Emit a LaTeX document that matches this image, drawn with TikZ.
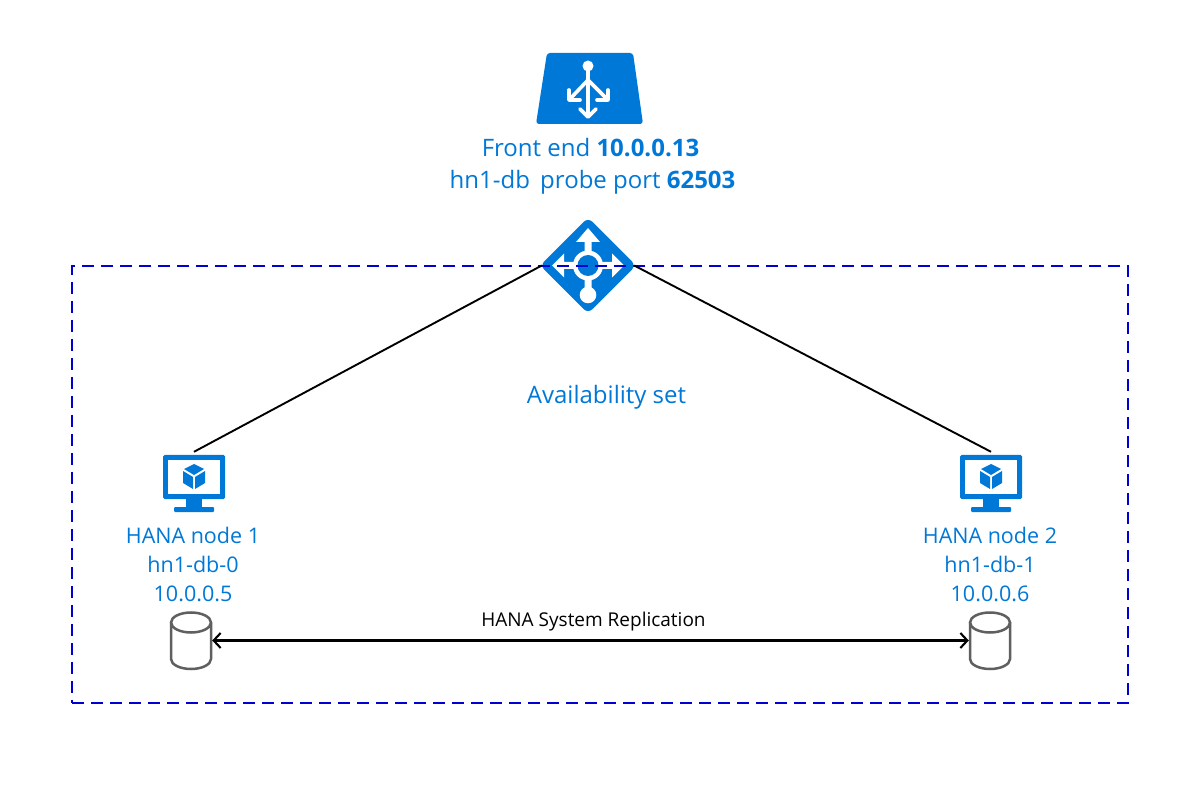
\documentclass[tikz,border=0pt]{standalone}
\usepackage{fontspec}
\setmainfont{Open Sans}
\usetikzlibrary{arrows.meta}
\definecolor{azure}{HTML}{0078D7}
\definecolor{dbgrey}{HTML}{5F5F5F}
\definecolor{setblue}{HTML}{0000D0}
\tikzset{
  x=1pt,y=-1pt,
  azuretext/.style={text=azure,align=center,inner sep=0pt,font=\fontsize{24}{32}\selectfont},
  nodetext/.style={text=azure,align=center,inner sep=0pt,font=\fontsize{21.5}{29}\selectfont},
  blackline/.style={draw=black,line width=1.9pt},
  whitestroke/.style={draw=white,line width=3.6pt,line cap=round,line join=round},
  pics/vmicon/.style={code={
    \fill[azure,rounded corners=1.5pt] (-31,-27) rectangle (31,17);
    \fill[white] (-26,-22) rectangle (26,12);
    \fill[azure] (-8,17) rectangle (8,25);
    \fill[azure,rounded corners=1pt] (-20,25) rectangle (20,30);
    \fill[azure] (1,-5) -- (11,-11) -- (11,1) -- (1,7) -- cycle;
    \fill[azure] (-1,-5) -- (-11,-11) -- (-11,1) -- (-1,7) -- cycle;
    \fill[azure] (0,-7) -- (-10,-13) -- (0,-18) -- (10,-13) -- cycle;
  }},
  pics/dbicon/.style={code={
    \draw[dbgrey,line width=2.5pt]
      (-20,-18) -- (-20,18.5) arc[start angle=180,end angle=0,x radius=20,y radius=10] -- (20,-18);
    \draw[dbgrey,line width=2.5pt] (0,-18) ellipse[x radius=20,y radius=10];
  }}
}
\begin{document}
\begin{tikzpicture}
\useasboundingbox (0,0) rectangle (1200,791);
\fill[white] (0,0) rectangle (1200,791);
% front-end icon
\node[minimum width=107pt,minimum height=71pt,inner sep=0pt] (fe) at (589.5,88.5) {};
\fill[azure,rounded corners=3pt] (547,53) -- (633,53) -- (643,124) -- (536,124) -- cycle;
\fill[white] (588,66) circle[radius=5.5];
\draw[whitestroke] (588,66) -- (588,116);
\draw[whitestroke] (580,109) -- (588,117) -- (596,109);
\draw[whitestroke] (588,80) -- (569,100);
\draw[whitestroke] (588,80) -- (608,100);
\draw[whitestroke] (569,90) -- (569,100) -- (580,100);
\draw[whitestroke] (608,90) -- (608,100) -- (597,100);
% front-end text
\node[azuretext] (fetext) at (590.5,148) {Front end \textbf{10.0.0.13}};
\node[azuretext] (probetext) at (592.5,182) {hn1-db\hspace{4pt} probe port \textbf{62503}};
% load balancer icon
\node[minimum width=92pt,minimum height=92pt,inner sep=0pt] (lb) at (588,265.5) {};
\fill[azure,rounded corners=6pt] (588,217.5) -- (636,265.5) -- (588,313.5) -- (540,265.5) -- cycle;
\fill[white] (588,228) -- (600,242) -- (591.5,242) -- (591.5,290) -- (584.5,290) -- (584.5,242) -- (576,242) -- cycle;
\fill[white] (552,265.5) -- (564,253.5) -- (564,262) -- (612,262) -- (612,253.5) -- (624,265.5) -- (612,277.5) -- (612,269) -- (564,269) -- (564,277.5) -- cycle;
\fill[white] (588,265.5) circle[radius=15];
\fill[azure] (588,265.5) circle[radius=10.5];
\fill[white] (588,295) circle[radius=8.3];
% availability set
\node[draw=setblue,line width=1.6pt,dash pattern=on 12pt off 7pt,minimum width=1056pt,minimum height=437pt,inner sep=0pt] (aset) at (600,484.5) {};
\node[azuretext] (astext) at (606.5,397) {Availability set};
% VMs
\node[minimum width=62pt,minimum height=60pt,inner sep=0pt] (vm1) at (194,482) {};
\node[minimum width=62pt,minimum height=60pt,inner sep=0pt] (vm2) at (991,482) {};
\pic at (194,482) {vmicon};
\pic at (991,482) {vmicon};
\node[nodetext] (t1) at (193,564.5) {HANA node 1\\hn1-db-0\\10.0.0.5};
\node[nodetext] (t2) at (990,564.5) {HANA node 2\\hn1-db-1\\10.0.0.6};
% databases
\node[minimum width=42pt,minimum height=58pt,inner sep=0pt] (db1) at (191,640.5) {};
\node[minimum width=42pt,minimum height=58pt,inner sep=0pt] (db2) at (990,640.5) {};
\pic at (191,640.5) {dbicon};
\pic at (990,640.5) {dbicon};
% connectors
\draw[blackline] (lb.west) -- (vm1.north);
\draw[blackline] (lb.east) -- (vm2.north);
\draw[blackline,line width=2.1pt,{Straight Barb[length=7pt,width=15pt]}-{Straight Barb[length=7pt,width=15pt]}] (db1.east) -- (db2.west);
\node[text=black,inner sep=0pt,font=\fontsize{19}{24}\selectfont] (hsr) at (593.5,622) {HANA System Replication};
\end{tikzpicture}
\end{document}
